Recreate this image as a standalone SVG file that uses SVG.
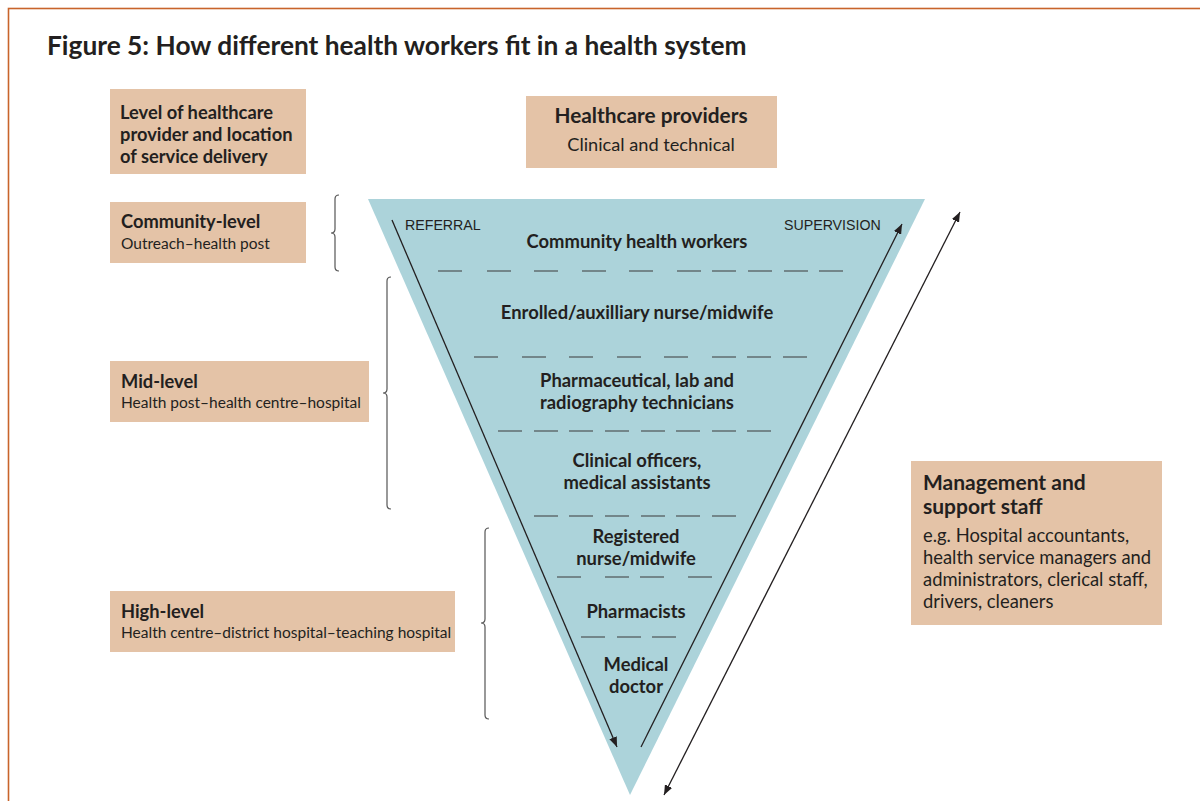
<svg xmlns="http://www.w3.org/2000/svg" width="1200" height="801" viewBox="0 0 1200 801">
<defs>
<style>
.box{fill:#e4c3a7}
.b{font-family:Lato,"Noto Sans","Liberation Sans",sans-serif;font-weight:bold;fill:#231f20}
.r{font-family:Lato,"Noto Sans","Liberation Sans",sans-serif;fill:#231f20}
.a{font-family:"Liberation Sans",Arial,sans-serif;fill:#231f20;font-size:14.2px}
.c{text-anchor:middle}
.dash{stroke:#3a3a3a;stroke-width:1.2;fill:none}
.brace{stroke:#555;stroke-width:1.2;fill:none}
.arr{stroke:#231f20;stroke-width:1.3;fill:none}
</style>
<marker id="ah" viewBox="0 0 10 8" refX="10" refY="4" markerWidth="10" markerHeight="8" markerUnits="userSpaceOnUse" orient="auto-start-reverse">
<path d="M0,0 L10,4 L0,8 z" fill="#231f20"/>
</marker>
</defs>
<rect width="1200" height="801" fill="#fff"/>
<rect x="8.5" y="8.5" width="1300" height="900" fill="none" stroke="#c8642b" stroke-width="1.6"/>
<text class="b" x="47" y="55" font-size="26.3">Figure 5: How different health workers fit in a health system</text>

<g id="pyramid">
<polygon points="368,199 925,199 630,795" fill="#acd3da"/>
</g>

<g id="dividers" class="dash">
<path d="M438,271h24M487,271h24M534,271h24M582,271h24M629,271h24M677,271h24M712,271h24M748,271h24M784,271h24M819,271h24"/>
<path d="M474,357h24M522,357h24M569,357h24M617,357h24M664,357h24M712,357h24M747,357h24M783,357h24"/>
<path d="M498,431h24M534,431h24M569,431h24M605,431h24M641,431h24M676,431h24M712,431h24M747,431h24"/>
<path d="M534,516h24M569,516h24M605,516h24M641,516h24M676,516h24M712,516h24"/>
<path d="M557,577h24M605,577h24M640,577h24M688,577h24"/>
<path d="M581,637h24M617,637h24M652,637h24"/>
</g>

<g id="tiers">
<text class="b c" x="637" y="248" font-size="18.4">Community health workers</text>
<text class="b c" x="637" y="319" font-size="18.4">Enrolled/auxilliary nurse/midwife</text>
<text class="b c" x="637" y="387" font-size="18.4">Pharmaceutical, lab and</text>
<text class="b c" x="637" y="409" font-size="18.4">radiography technicians</text>
<text class="b c" x="637" y="467" font-size="18.4">Clinical officers,</text>
<text class="b c" x="637" y="489" font-size="18.4">medical assistants</text>
<text class="b c" x="636" y="543" font-size="18.4">Registered</text>
<text class="b c" x="636" y="565" font-size="18.4">nurse/midwife</text>
<text class="b c" x="636" y="618" font-size="18.4">Pharmacists</text>
<text class="b c" x="636" y="671" font-size="18.4">Medical</text>
<text class="b c" x="636" y="693" font-size="18.4">doctor</text>
</g>

<g id="connectors">
<line class="arr" x1="392" y1="220" x2="617" y2="747" marker-end="url(#ah)"/>
<line class="arr" x1="641" y1="747" x2="902" y2="224" marker-end="url(#ah)"/>
<line class="arr" x1="664" y1="795" x2="960" y2="212" marker-start="url(#ah)" marker-end="url(#ah)"/>
</g>
<text class="a" x="405" y="230">REFERRAL</text>
<text class="a" x="784" y="230">SUPERVISION</text>

<g id="braces" class="brace">
<path d="M339,195 Q335,195 335,199 L335,229 Q335,233 331,233 Q335,233 335,237 L335,267 Q335,271 339,271"/>
<path d="M391,277 Q387,277 387,281 L387,389 Q387,393 383,393 Q387,393 387,397 L387,505 Q387,509 391,509"/>
<path d="M489,528 Q485,528 485,532 L485,619 Q485,623 481,623 Q485,623 485,627 L485,715 Q485,719 489,719"/>
</g>

<g id="level-header">
<rect class="box" x="110" y="89" width="196" height="85"/>
<text class="b" x="120" y="119" font-size="18.3">Level of healthcare</text>
<text class="b" x="120" y="141" font-size="18.3">provider and location</text>
<text class="b" x="120" y="163" font-size="18.3">of service delivery</text>
</g>
<g id="community-level">
<rect class="box" x="110" y="202" width="196" height="61"/>
<text class="b" x="121" y="228" font-size="18.3">Community-level</text>
<text class="r" x="121" y="249" font-size="15.5">Outreach–health post</text>
</g>
<g id="mid-level">
<rect class="box" x="110" y="361" width="259" height="61"/>
<text class="b" x="121" y="388" font-size="18.3">Mid-level</text>
<text class="r" x="121" y="408" font-size="15.5">Health post–health centre–hospital</text>
</g>
<g id="high-level">
<rect class="box" x="110" y="591" width="345" height="61"/>
<text class="b" x="121" y="618" font-size="18.3">High-level</text>
<text class="r" x="121" y="638" font-size="15.5">Health centre–district hospital–teaching hospital</text>
</g>
<g id="providers">
<rect class="box" x="526" y="96" width="251" height="72"/>
<text class="b c" x="651" y="123" font-size="20.8">Healthcare providers</text>
<text class="r c" x="651" y="151" font-size="18.2">Clinical and technical</text>
</g>
<g id="management">
<rect class="box" x="911" y="461" width="251" height="164"/>
<text class="b" x="923" y="490" font-size="21">Management and</text>
<text class="b" x="923" y="514" font-size="21">support staff</text>
<text class="r" x="923" y="542" font-size="18.4">e.g. Hospital accountants,</text>
<text class="r" x="923" y="564" font-size="18.4">health service managers and</text>
<text class="r" x="923" y="586" font-size="18.4">administrators, clerical staff,</text>
<text class="r" x="923" y="608" font-size="18.4">drivers, cleaners</text>
</g>
</svg>
